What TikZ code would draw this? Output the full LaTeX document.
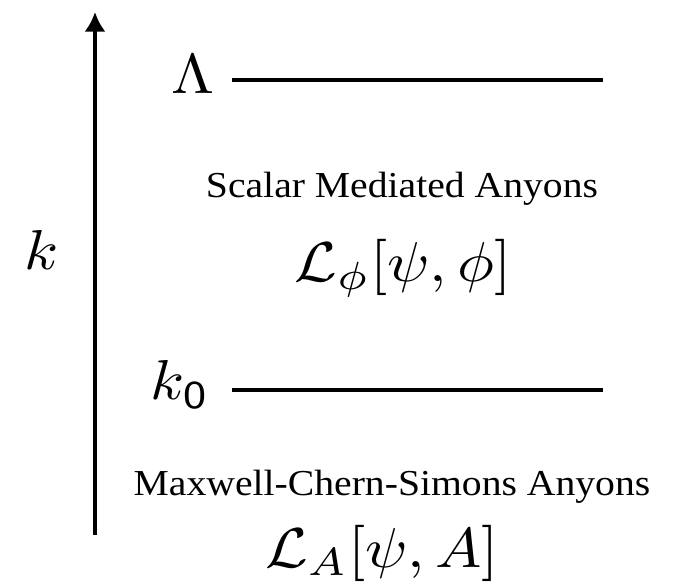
\documentclass[tikz,border=0pt]{standalone}
\usepackage{amsmath,amssymb}
\usepackage{fontspec}
\setmainfont{Liberation Serif}
\usetikzlibrary{arrows.meta}
\begin{document}
\begin{tikzpicture}[x=0.025cm,y=-0.025cm,
    mth/.style={xscale=4.4,yscale=4.0,inner sep=0pt},
    txt/.style={xscale=2.82,yscale=2.6,inner sep=0pt}]
  \useasboundingbox (0,0) rectangle (698,586);
  % scale axis
  \coordinate (B) at (95,535);
  \coordinate (T) at (95,12);
  \draw[line width=2.6pt,-{Latex[length=14pt,width=15pt]}] (B) -- (T);
  \node[mth] (K) at (42,250) {$k$};
  % cut-off levels
  \coordinate (P) at (232,80);
  \coordinate (Q) at (603,80);
  \coordinate (R) at (232,390);
  \coordinate (S) at (603,390);
  \draw[line width=3pt] (P) -- (Q);
  \draw[line width=3pt] (R) -- (S);
  \node[mth] (Lam) at (193,74) {$\Lambda$};
  \node[mth] (K0) at (180,385) {$k_{\mathsf{0}}$};
  % regimes
  \node[txt] (S1) at (402,189) {Scalar Mediated Anyons};
  \node[mth] (L1) at (403,268) {$\mathcal{L}_\phi[\psi,\phi]$};
  \node[txt] (S2) at (392,487) {Maxwell-Chern-Simons Anyons};
  \node[mth] (L2) at (382,553) {$\mathcal{L}_A[\psi,A]$};
\end{tikzpicture}
\end{document}
